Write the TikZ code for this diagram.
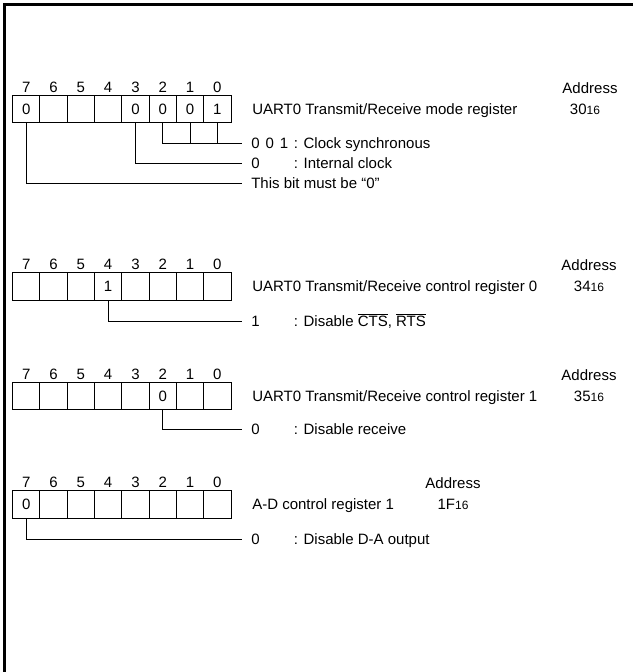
\documentclass[tikz,border=0pt]{standalone}
\usepackage{amsmath}
\usepackage{fontspec}
\setmainfont{Liberation Sans}
\usepackage{tikz}
\usetikzlibrary{calc,positioning}
\newcommand{\hexsub}[1]{{\fontsize{9pt}{9pt}\selectfont #1}}

\begin{document}
\begin{tikzpicture}[x=0.75pt,y=-0.75pt,
  font=\fontsize{11.25pt}{13pt}\selectfont,
  bitcell/.style={draw,line width=0.75pt,minimum width=20.5pt,minimum height=20.5pt,
    inner sep=0pt,text height=8pt,text depth=0pt},
  bitnum/.style={inner sep=0pt,text height=8pt,text depth=0pt},
  txt/.style={anchor=west,inner xsep=5.25pt,inner ysep=0pt,text height=8pt,text depth=0pt},
  desc/.style={txt,inner xsep=6.75pt},
  addr/.style={inner sep=0pt,text height=8pt,text depth=0pt},
  lead/.style={line width=0.75pt}]
  \useasboundingbox (0,0) rectangle (633,672);

  % Rahmen
  \draw[line width=2.25pt] (4,672) -- (4,4) -- (633,4);

  % Mode-Register (30)
  \foreach \b/\v in {7/0,6/{},5/{},4/{},3/0,2/0,1/0,0/1}
    \node[bitcell] (m-\b) at ({12.6+(7.5-\b)*27.3},109.3) {\v};
  \foreach \b in {7,...,0}
    \node[bitnum,above=6pt of m-\b.north,anchor=center] (mn-\b) {\b};
  \node[txt] (m-name) at (245,109.3) {UART0 Transmit/Receive mode register};
  \node[addr] (m-addr) at (590,88) {Address};
  \node[addr] (m-num) at (585,109.3) {30\hexsub{16}};
  \node[desc] (m-d1) at (242,143) {\makebox[32pt][l]{0\hspace{4.5pt}0\hspace{4.5pt}1}: Clock synchronous};
  \node[desc] (m-d2) at (242,163) {\makebox[32pt][l]{0}: Internal clock};
  \node[desc] (m-d3) at (242,183) {This bit must be “0”};
  \draw[lead] (m-2.south) |- (m-d1.west);
  \draw[lead] (m-1.south) -- (m-1.south |- m-d1.west);
  \draw[lead] (m-0.south) -- (m-0.south |- m-d1.west);
  \draw[lead] (m-3.south) |- (m-d2.west);
  \draw[lead] (m-7.south) |- (m-d3.west);

  % Control-Register 0 (34)
  \foreach \b/\v in {7/{},6/{},5/{},4/1,3/{},2/{},1/{},0/{}}
    \node[bitcell] (a-\b) at ({12.6+(7.5-\b)*27.3},286.5) {\v};
  \foreach \b in {7,...,0}
    \node[bitnum,above=6pt of a-\b.north,anchor=center] (an-\b) {\b};
  \node[txt] (a-name) at (245,286.5) {UART0 Transmit/Receive control register 0};
  \node[addr] (a-addr) at (589,265.5) {Address};
  \node[addr] (a-num) at (589,286.5) {34\hexsub{16}};
  \node[desc] (a-d1) at (242,321) {\makebox[32pt][l]{1}: Disable $\overline{\text{CTS}}$, $\overline{\text{RTS}}$};
  \draw[lead] (a-4.south) |- (a-d1.west);

  % Control-Register 1 (35)
  \foreach \b/\v in {7/{},6/{},5/{},4/{},3/{},2/0,1/{},0/{}}
    \node[bitcell] (b-\b) at ({12.6+(7.5-\b)*27.3},396.3) {\v};
  \foreach \b in {7,...,0}
    \node[bitnum,above=6pt of b-\b.north,anchor=center] (bn-\b) {\b};
  \node[txt] (b-name) at (245,396.3) {UART0 Transmit/Receive control register 1};
  \node[addr] (b-addr) at (589,375.3) {Address};
  \node[addr] (b-num) at (589,396.3) {35\hexsub{16}};
  \node[desc] (b-d1) at (242,429) {\makebox[32pt][l]{0}: Disable receive};
  \draw[lead] (b-2.south) |- (b-d1.west);

  % A-D-Register 1 (1F)
  \foreach \b/\v in {7/0,6/{},5/{},4/{},3/{},2/{},1/{},0/{}}
    \node[bitcell] (d-\b) at ({12.6+(7.5-\b)*27.3},504.5) {\v};
  \foreach \b in {7,...,0}
    \node[bitnum,above=6pt of d-\b.north,anchor=center] (dn-\b) {\b};
  \node[txt] (d-name) at (245,504.5) {A-D control register 1};
  \node[addr] (d-addr) at (453,483.5) {Address};
  \node[addr] (d-num) at (453,504.5) {1F\hexsub{16}};
  \node[desc] (d-d1) at (242,539) {\makebox[32pt][l]{0}: Disable D-A output};
  \draw[lead] (d-7.south) |- (d-d1.west);
\end{tikzpicture}
\end{document}
